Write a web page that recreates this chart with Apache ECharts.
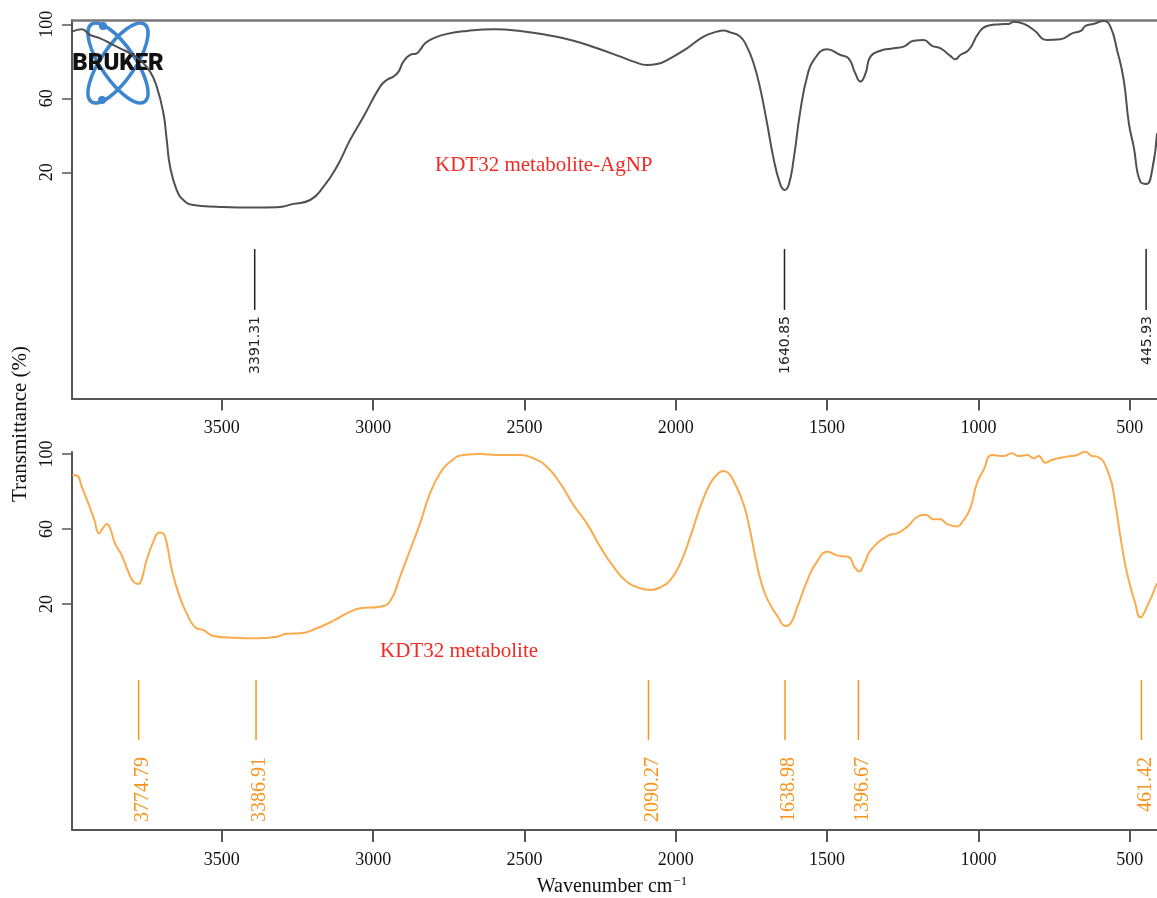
<!DOCTYPE html>
<html>
<head>
<meta charset="utf-8">
<title>FTIR</title>
<script src="https://cdn.jsdelivr.net/npm/echarts@6.0.0/dist/echarts.min.js"></script>
<style>
  html, body { margin: 0; padding: 0; background: #fff; }
  #chart { width: 1157px; height: 898px; }
</style>
</head>
<body>
<div id="chart"></div>
<script>
// 刻度
const wnTicks = [3500, 3000, 2500, 2000, 1500, 1000, 500]
const tTicks = [20, 60, 100]

// 上图: KDT32 metabolite-AgNP
const agnpWn = [3995, 3963, 3935, 3902, 3869, 3836, 3803, 3770, 3737, 3715, 3693, 3682, 3671, 3649, 3627, 3594, 3517, 3396, 3318, 3263,
  3208, 3164, 3120, 3076, 3032, 2977, 2955, 2933, 2916, 2900, 2878, 2856, 2845, 2828, 2801, 2756, 2690, 2602, 2514, 2426,
  2338, 2260, 2183, 2139, 2095, 2062, 2018, 1963, 1908, 1864, 1842, 1820, 1787, 1765, 1743, 1722, 1699, 1677, 1656, 1641, 1627,
  1611, 1588, 1566, 1544, 1500, 1456, 1429, 1407, 1390, 1373, 1357, 1324, 1280, 1247, 1214, 1181, 1153, 1125, 1093, 1076,
  1060, 1032, 1000, 972, 927, 900, 883, 850, 817, 773, 729, 690, 662, 646, 619, 586, 564, 542, 520, 503,
  487, 465, 445, 426, 410]
const agnpT = [96, 97.3, 94.2, 92.4, 89.7, 87, 84.3, 80.7, 74.4, 66.3, 51.9, 37.5, 23.1, 10.4, 5, 2.3, 1.4, 0.9, 1.1, 2.9,
  5, 12.2, 23, 37.5, 50, 66.3, 69.9, 71.7, 74.4, 79.8, 83.4, 84.3, 86.1, 89.7, 92.4, 94.8, 96.4, 97.3, 96.4, 94.2,
  91.1, 87, 82.5, 79.8, 78, 78.5, 81.6, 87, 93.3, 96, 96.6, 95.6, 93.3, 87.9, 78.9, 66, 47, 27.5, 14.1, 10.4, 13.1,
  26.6, 53.7, 71.7, 80.7, 86.5, 83.4, 81.6, 73.5, 69, 73.5, 82.5, 85.7, 87, 87.9, 91.1, 91.5, 88.3, 87, 82.9, 81.1,
  83.4, 86.1, 95.1, 99.1, 100, 100.2, 101.4, 100.2, 96.9, 91.5, 91.9, 95.1, 96.4, 99.1, 100.2, 101.8, 98.7, 86.1, 69.9, 46.5,
  33.8, 14.9, 13.7, 21.2, 41.1]
const agnpPeaks = [3391.31, 1640.85, 445.93]

// 下图: KDT32 metabolite
const metWn = [3994, 3977, 3963, 3941, 3921, 3906, 3893, 3880, 3869, 3853, 3831, 3809, 3792, 3776, 3764, 3748, 3726, 3706, 3693, 3682,
  3665, 3643, 3616, 3583, 3561, 3528, 3462, 3384, 3318, 3285, 3241, 3186, 3131, 3087, 3043, 2977, 2944, 2911, 2878, 2845,
  2812, 2779, 2745, 2701, 2646, 2592, 2514, 2470, 2426, 2382, 2338, 2294, 2250, 2206, 2162, 2117, 2084, 2051, 2018, 1985,
  1952, 1919, 1886, 1860, 1843, 1826, 1810, 1777, 1755, 1733, 1715, 1696, 1663, 1636, 1620, 1598, 1565, 1537, 1498, 1465, 1430,
  1410, 1394, 1377, 1355, 1300, 1267, 1234, 1203, 1175, 1148, 1126, 1104, 1071, 1049, 1027, 1005, 983, 955, 917, 889,
  867, 839, 817, 801, 779, 751, 707, 674, 647, 625, 608, 570, 548, 531, 509, 482, 465, 443, 410]
const metT = [88.8, 88.3, 82.6, 73.7, 64.8, 57.7, 60.4, 62.7, 60.4, 52.4, 46.1, 37.2, 31.9, 30.7, 33.7, 43.6, 53.3, 58.2, 57.5, 52.4,
  38.1, 25.7, 15, 7, 6.1, 3, 2, 1.7, 2.6, 4.2, 4.4, 7.1, 11.1, 15, 17.7, 18.6, 21.5, 34.6, 48.8, 63,
  79, 89.7, 95.9, 99.5, 100, 99.5, 99.5, 97.7, 93.2, 84.4, 72.8, 63, 50.6, 39.9, 31.9, 28.4, 27.5, 28.9, 32.8, 41.7,
  55.9, 71.9, 84.4, 89.6, 91, 89.8, 86, 73.7, 59.5, 41.7, 30, 22.1, 13.2, 8.3, 9.7, 18.6, 32.8, 41.7, 47.9, 45.8, 45.2,
  39.9, 37.4, 41.7, 48.9, 56.4, 57.8, 61.4, 66.4, 67.6, 65.2, 65.2, 62.7, 61.4, 64.8, 71, 84.4, 91.5, 99.5, 98.9, 100.4,
  98.9, 99.5, 97.7, 98.9, 95.4, 97.2, 98.6, 99.5, 101.2, 98.9, 98.6, 89.7, 73.7, 55.9, 36.4, 20.4, 12.9, 18.6, 31.1]
const metPeaks = [3774.79, 3386.91, 2090.27, 1638.98, 1396.67, 461.42]

const serif = '"Liberation Serif", "DejaVu Serif", serif'
const axisColor = '#555'

const zip = (xs, ys) => xs.map((x, i) => [x, ys[i]])

// 峰位标注: 竖线 + 旋转文字
const peakRenderer = (lineFrom, lineTo, labelAt, color, font, dx) => (params, api) => {
  const w = api.value(0)
  const p1 = api.coord([w, lineFrom])
  const p2 = api.coord([w, lineTo])
  const p3 = api.coord([w, labelAt])
  return {
    type: 'group',
    children: [
      {
        type: 'line',
        shape: { x1: p1[0], y1: p1[1], x2: p2[0], y2: p2[1] },
        style: { stroke: color, lineWidth: 1.5 }
      },
      {
        type: 'text',
        x: p3[0] + dx,
        y: p3[1],
        rotation: Math.PI / 2,
        style: { text: w.toFixed(2), fill: color, font: font, align: 'right', verticalAlign: 'middle' }
      }
    ]
  }
}

const xAxisBase = (gridIndex) => ({
  gridIndex,
  type: 'value',
  inverse: true,
  min: 410,
  max: 3995,
  position: 'bottom',
  splitLine: { show: false },
  axisLine: { show: true, onZero: false, lineStyle: { color: axisColor, width: 2 } },
  axisTick: { show: true, customValues: wnTicks, length: 12, lineStyle: { color: axisColor, width: 2 } },
  axisLabel: { customValues: wnTicks, formatter: v => String(v), margin: 21, color: '#111', fontFamily: serif, fontSize: 18 }
})

const yAxisBase = (gridIndex, min, max) => ({
  gridIndex,
  type: 'value',
  min,
  max,
  splitLine: { show: false },
  axisLine: { show: true, onZero: false, lineStyle: { color: axisColor, width: 2 } },
  axisTick: { show: true, customValues: tTicks, length: 10, lineStyle: { color: axisColor, width: 1.5 } },
  axisLabel: { customValues: tTicks, formatter: v => String(v), rotate: 90, margin: 16, color: '#111', fontFamily: serif, fontSize: 18 }
})

const chart = echarts.init(document.getElementById('chart'))

chart.setOption({
  animation: false,
  grid: [
    { left: 72, right: 0, top: 20, height: 378.5 },
    { left: 72, right: 0, top: 452, height: 378 }
  ],
  xAxis: [
    xAxisBase(0),
    {
      // 上图顶边框
      gridIndex: 0, type: 'value', inverse: true, min: 410, max: 3995, position: 'top',
      splitLine: { show: false }, axisTick: { show: false }, axisLabel: { show: false },
      axisLine: { show: true, onZero: false, lineStyle: { color: '#777', width: 2.5 } }
    },
    xAxisBase(1)
  ],
  yAxis: [
    yAxisBase(0, -102.3, 102.3),
    yAxisBase(1, -100.5, 101.07)
  ],
  series: [
    {
      type: 'line',
      xAxisIndex: 0,
      yAxisIndex: 0,
      data: zip(agnpWn, agnpT),
      showSymbol: false,
      smooth: 0.5,
      lineStyle: { color: '#505050', width: 2 }
    },
    {
      type: 'line',
      xAxisIndex: 2,
      yAxisIndex: 1,
      data: zip(metWn, metT),
      showSymbol: false,
      smooth: 0.5,
      lineStyle: { color: '#F9AB4E', width: 2 }
    },
    {
      type: 'custom',
      xAxisIndex: 0,
      yAxisIndex: 0,
      silent: true,
      data: agnpPeaks.map(w => [w, 0]),
      encode: { x: 0, y: 1 },
      renderItem: peakRenderer(-21.5, -54.4, -57.7, '#222', '14px "DejaVu Sans", sans-serif', 1)
    },
    {
      type: 'custom',
      xAxisIndex: 2,
      yAxisIndex: 1,
      silent: true,
      data: metPeaks.map(w => [w, 0]),
      encode: { x: 0, y: 1 },
      renderItem: peakRenderer(-20.5, -52.5, -61.6, '#F7941D', '20px ' + serif, 4)
    }
  ],
  graphic: [
    {
      type: 'text', left: 435, top: 155,
      style: { text: 'KDT32 metabolite-AgNP', fill: '#EE2B25', font: '21px ' + serif }
    },
    {
      type: 'text', left: 380, top: 641,
      style: { text: 'KDT32 metabolite', fill: '#EE2B25', font: '21px ' + serif }
    },
    {
      type: 'text', x: 20, y: 424, rotation: Math.PI / 2,
      style: { text: 'Transmittance (%)', fill: '#111', font: '21px ' + serif, align: 'center', verticalAlign: 'middle' }
    },
    {
      type: 'text', x: 612, y: 887,
      style: {
        text: '{a|Wavenumber cm}{b|−1}',
        align: 'center',
        verticalAlign: 'middle',
        rich: {
          a: { fontFamily: serif, fontSize: 20, fill: '#111', color: '#111' },
          b: { fontFamily: serif, fontSize: 13, fill: '#111', color: '#111', verticalAlign: 'top', padding: [0, 0, 10, 1] }
        }
      }
    },
    {
      // BRUKER logo
      type: 'group', x: 118, y: 63, z: 100,
      children: [
        { type: 'ellipse', rotation: 0.6, shape: { cx: 0, cy: 0, rx: 17, ry: 47 }, style: { fill: 'none', stroke: '#3C86CF', lineWidth: 3.5 } },
        { type: 'ellipse', rotation: -0.6, shape: { cx: 0, cy: 0, rx: 17, ry: 47 }, style: { fill: 'none', stroke: '#3C86CF', lineWidth: 3.5 } },
        { type: 'circle', shape: { cx: -15, cy: -37, r: 4 }, style: { fill: '#3C86CF' } },
        { type: 'circle', shape: { cx: -16, cy: 37, r: 4 }, style: { fill: '#3C86CF' } },
        {
          type: 'text', x: 0, y: 1,
          style: { text: 'BRUKER', fill: '#111', font: '900 24px Roboto, "DejaVu Sans", sans-serif', align: 'center', verticalAlign: 'middle' }
        }
      ]
    }
  ]
})

window.addEventListener('resize', () => chart.resize())
</script>
</body>
</html>
